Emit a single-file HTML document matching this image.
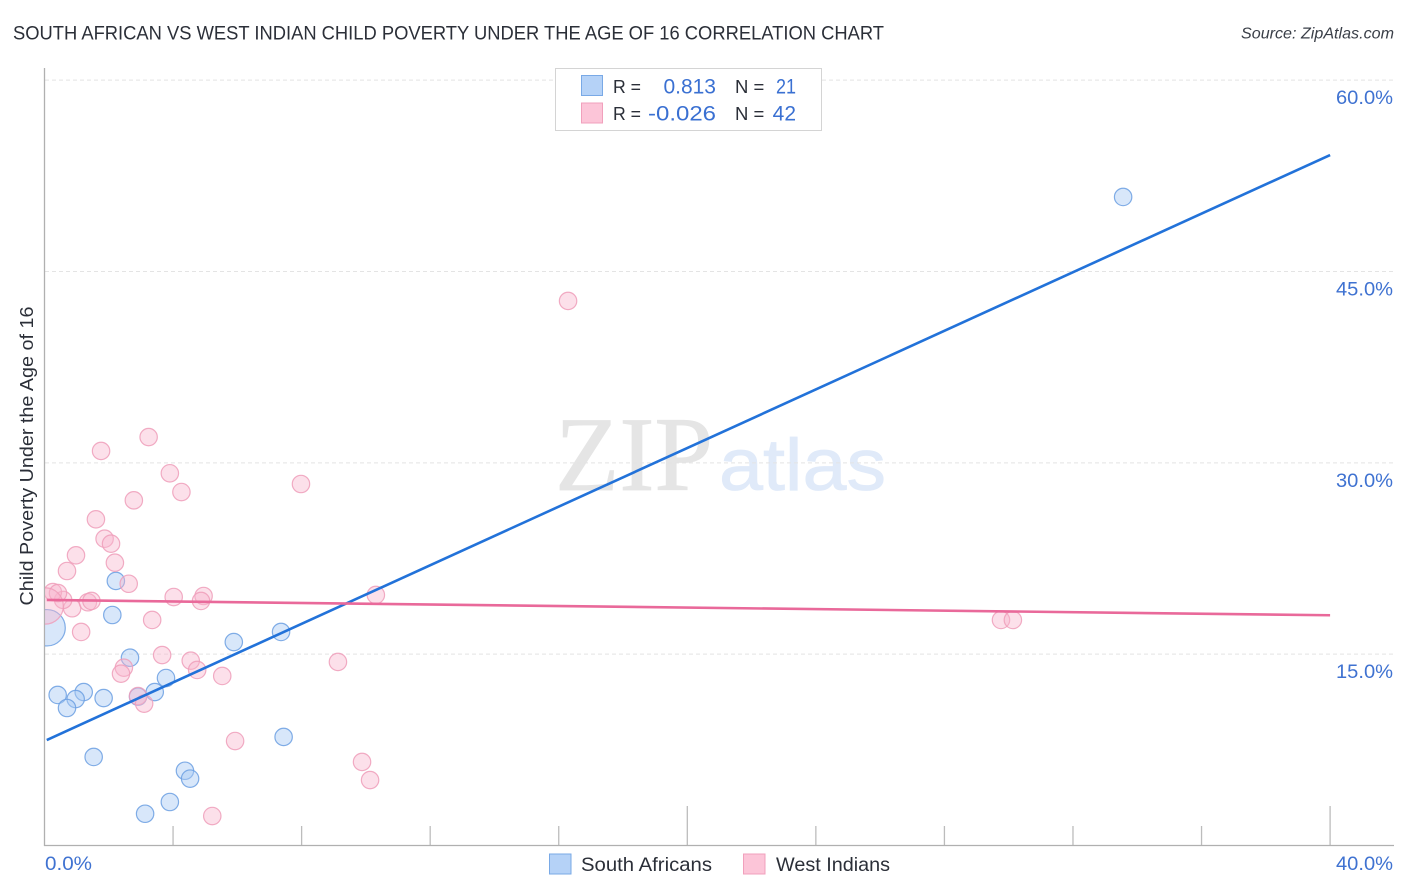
<!DOCTYPE html>
<html lang="en">
<head>
<meta charset="utf-8">
<title>South African vs West Indian Child Poverty Correlation Chart</title>
<style>
html,body{margin:0;padding:0;background:#fff;}
svg{display:block;font-family:"Liberation Sans",sans-serif;}
</style>
</head>
<body>
<svg id="chart" xmlns="http://www.w3.org/2000/svg" width="1406" height="892" viewBox="0 0 1406 892">
  <defs>
    <clipPath id="plot-clip"><rect x="45" y="60" width="1350" height="785"/></clipPath>
  </defs>
  <rect x="0" y="0" width="1406" height="892" fill="#ffffff"/>
  <text x="13" y="39.5" font-size="19.5" fill="#2b2f38" textLength="871" lengthAdjust="spacingAndGlyphs">SOUTH AFRICAN VS WEST INDIAN CHILD POVERTY UNDER THE AGE OF 16 CORRELATION CHART</text>
  <text x="1394" y="38.5" font-size="16" font-style="italic" fill="#3a3f48" text-anchor="end" textLength="153" lengthAdjust="spacingAndGlyphs">Source: ZipAtlas.com</text>
  <text x="555" y="490" font-family="'Liberation Serif',serif" font-size="106" fill="#e5e5e5" stroke="#e5e5e5" stroke-width="0.8" textLength="158" lengthAdjust="spacingAndGlyphs">ZIP</text>
  <text x="719" y="490" font-size="73" fill="#e0eaf9" stroke="#e0eaf9" stroke-width="0.8" textLength="167" lengthAdjust="spacingAndGlyphs">atlas</text>
  <g id="grid-layer"></g>
  <g id="tick-layer"></g>
  <line x1="44.5" y1="68" x2="44.5" y2="846" stroke="#b0b0b0" stroke-width="1.3"/>
  <line x1="44" y1="845.5" x2="1394" y2="845.5" stroke="#b0b0b0" stroke-width="1.3"/>
  <g id="point-layer" clip-path="url(#plot-clip)"></g>
  <g id="line-layer"></g>
  <g id="label-layer"></g>
  <text transform="translate(33,456) rotate(-90)" font-size="18.5" fill="#2b2f38" text-anchor="middle" textLength="299" lengthAdjust="spacingAndGlyphs">Child Poverty Under the Age of 16</text>

  <g>
    <rect x="555.5" y="68.5" width="266" height="62" fill="#ffffff" stroke="#d4d4d4" stroke-width="1"/>
    <rect x="581.5" y="75.5" width="21" height="20" fill="#b5d2f7" stroke="#79a9e6" stroke-width="1"/>
    <rect x="581.5" y="103" width="21" height="20" fill="#fcc5d8" stroke="#f1a0bc" stroke-width="1"/>
    <text x="613" y="93" font-size="18.5" fill="#2b2f38" textLength="28" lengthAdjust="spacingAndGlyphs">R =</text>
    <text x="716" y="93.5" font-size="21" fill="#3a70d2" text-anchor="end">0.813</text>
    <text x="735" y="93" font-size="18.5" fill="#2b2f38">N =</text>
    <text x="796" y="93.5" font-size="21" fill="#3a70d2" text-anchor="end" textLength="20" lengthAdjust="spacingAndGlyphs">21</text>
    <text x="613" y="120" font-size="18.5" fill="#2b2f38" textLength="28" lengthAdjust="spacingAndGlyphs">R =</text>
    <text x="716" y="120.5" font-size="21" fill="#3a70d2" text-anchor="end" textLength="68" lengthAdjust="spacingAndGlyphs">-0.026</text>
    <text x="735" y="120" font-size="18.5" fill="#2b2f38">N =</text>
    <text x="796" y="120.5" font-size="21" fill="#3a70d2" text-anchor="end">42</text>
  </g>

  <g>
    <rect x="549.5" y="854" width="21.5" height="20" fill="#b5d2f7" stroke="#79a9e6" stroke-width="1"/>
    <text x="581" y="871" font-size="19.5" fill="#2b2f38" textLength="131" lengthAdjust="spacingAndGlyphs">South Africans</text>
    <rect x="743.5" y="854" width="21.5" height="20" fill="#fcc5d8" stroke="#f1a0bc" stroke-width="1"/>
    <text x="776" y="871" font-size="19.5" fill="#2b2f38" textLength="114" lengthAdjust="spacingAndGlyphs">West Indians</text>
  </g>
</svg>
<script>
const yGridValues = [15, 30, 45, 60];
const yTickLabels = ["15.0%", "30.0%", "45.0%", "60.0%"];
const xTickValues = [4, 8, 12, 16, 20, 24, 28, 32, 36, 40];
const xMajorTicks = [20, 40];
const xTickLabels = ["0.0%", "40.0%"];

const southAfricanX = [33.56, 2.22, 2.11, 2.66, 5.89, 7.36, 3.78, 3.43, 2.91, 1.22, 0.97, 1.84, 0.41, 0.70, 1.53, 4.37, 4.53, 7.44, 3.13, 3.90, 0.08];
const southAfricanY = [50.84, 20.74, 18.07, 14.72, 15.95, 16.74, 13.13, 12.03, 11.67, 12.03, 11.48, 11.56, 11.80, 10.78, 6.94, 5.86, 5.24, 8.51, 2.49, 3.41, 17.07];
const southAfricanLargeIndex = 20;

const westIndianX = [0.70, 0.98, 2.19, 2.62, 4.02, 4.95, 4.87, 3.35, 1.14, 0.86, 1.35, 1.46, 0.58, 0.26, 0.42, 3.66, 4.55, 4.75, 5.53, 2.47, 2.38, 2.91, 3.10, 5.93, 5.22, 1.76, 3.24, 3.90, 4.26, 2.78, 1.60, 1.87, 2.07, 7.98, 16.29, 10.31, 9.13, 9.88, 10.13, 29.76, 30.13, 0.02];
const westIndianY = [21.52, 22.75, 22.17, 20.52, 19.48, 19.56, 19.17, 17.68, 16.74, 18.60, 19.07, 19.17, 19.25, 19.87, 19.79, 14.93, 14.49, 13.76, 13.29, 13.94, 13.47, 11.72, 11.12, 8.19, 2.31, 30.93, 32.02, 29.18, 27.71, 27.06, 25.57, 24.05, 23.66, 28.34, 42.69, 19.64, 14.39, 6.55, 5.13, 17.68, 17.68, 18.78];
const westIndianLargeIndex = 41;

const trendX = [0.07, 40];
const southAfricanTrend = [8.27, 54.13];
const westIndianTrend = [19.25, 18.05];

const NS = "http://www.w3.org/2000/svg";
function xScale(v) { return 44.5 + v * 32.14; }
function yScale(v) { return 845.5 - v * 12.756; }
function make(tag, attrs, parent) {
  const node = document.createElementNS(NS, tag);
  for (const k in attrs) node.setAttribute(k, attrs[k]);
  parent.appendChild(node);
  return node;
}

const gridLayer = document.getElementById("grid-layer");
const tickLayer = document.getElementById("tick-layer");
const pointLayer = document.getElementById("point-layer");
const lineLayer = document.getElementById("line-layer");
const labelLayer = document.getElementById("label-layer");

yGridValues.forEach(function (v, i) {
  const grid = make("line", {x1: 45, x2: 1394, y1: yScale(v), y2: yScale(v), stroke: "#e4e4e4", "stroke-width": 1, "stroke-dasharray": "4 3"}, gridLayer);
  
  
  const label = make("text", {x: 1393, y: yScale(v) + 24, "font-size": 19.5, fill: "#3f72d1", "text-anchor": "end", textLength: 57, lengthAdjust: "spacingAndGlyphs"}, labelLayer);
  label.textContent = yTickLabels[i];
  
  
});

xTickValues.forEach(function (v) {
  const top = xMajorTicks.indexOf(v) >= 0 ? 806 : 826;
  const tick = make("line", {x1: xScale(v), x2: xScale(v), y1: top, y2: 845.5, stroke: "#bcbcbc", "stroke-width": 1.3}, tickLayer);
  
  
});

const xLabelMin = make("text", {x: 45, y: 870, "font-size": 19.5, fill: "#3f72d1", textLength: 47, lengthAdjust: "spacingAndGlyphs"}, labelLayer);
xLabelMin.textContent = xTickLabels[0];


const xLabelMax = make("text", {x: 1393, y: 870, "font-size": 19.5, fill: "#3f72d1", "text-anchor": "end", textLength: 57, lengthAdjust: "spacingAndGlyphs"}, labelLayer);
xLabelMax.textContent = xTickLabels[1];



southAfricanX.forEach(function (v, i) {
  const dot = make("circle", {cx: xScale(v), cy: yScale(southAfricanY[i]), r: i === southAfricanLargeIndex ? 18.2 : 8.7, fill: "#a9caf3", "fill-opacity": 0.45, stroke: "#6b9fe2", "stroke-opacity": 0.85, "stroke-width": 1.2}, pointLayer);
  
  
});

westIndianX.forEach(function (v, i) {
  const dot = make("circle", {cx: xScale(v), cy: yScale(westIndianY[i]), r: i === westIndianLargeIndex ? 18.2 : 8.7, fill: "#f8b4cc", "fill-opacity": 0.42, stroke: "#ee9dba", "stroke-opacity": 0.85, "stroke-width": 1.2}, pointLayer);
  
  
});

const blueTrend = make("line", {x1: xScale(trendX[0]), y1: yScale(southAfricanTrend[0]), x2: xScale(trendX[1]), y2: yScale(southAfricanTrend[1]), stroke: "#2272d9", "stroke-width": 2.6}, lineLayer);


const pinkTrend = make("line", {x1: xScale(trendX[0]), y1: yScale(westIndianTrend[0]), x2: xScale(trendX[1]), y2: yScale(westIndianTrend[1]), stroke: "#e9699a", "stroke-width": 2.6}, lineLayer);


</script>
</body>
</html>
